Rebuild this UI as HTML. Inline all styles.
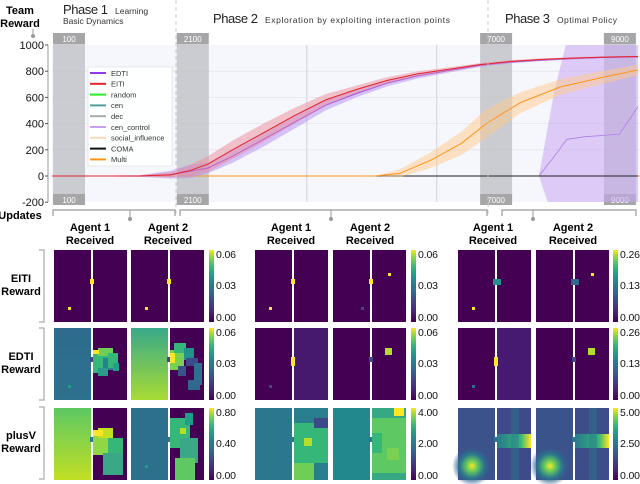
<!DOCTYPE html>
<html><head><meta charset="utf-8"><style>
html,body{margin:0;padding:0;background:#fff;width:640px;height:484px;overflow:hidden}
svg{display:block;font-family:"Liberation Sans",sans-serif}
</style></head><body>
<svg id="s" width="640" height="484" viewBox="0 0 640 484" xmlns="http://www.w3.org/2000/svg">
<defs>
<linearGradient id="vir" x1="0" y1="1" x2="0" y2="0">
<stop offset="0" stop-color="#440154"/><stop offset="0.15" stop-color="#482878"/><stop offset="0.3" stop-color="#3e4989"/><stop offset="0.42" stop-color="#31688e"/><stop offset="0.55" stop-color="#26828e"/><stop offset="0.66" stop-color="#1f9e89"/><stop offset="0.76" stop-color="#35b779"/><stop offset="0.86" stop-color="#6ece58"/><stop offset="0.94" stop-color="#b5de2b"/><stop offset="1" stop-color="#fde725"/></linearGradient>
<linearGradient id="gA2" x1="0" y1="0" x2="0" y2="1"><stop offset="0" stop-color="#38a98a"/><stop offset="1" stop-color="#a8db34"/></linearGradient>
<linearGradient id="gP1" x1="0" y1="0" x2="0" y2="1"><stop offset="0" stop-color="#5cc863"/><stop offset="1" stop-color="#c2df23"/></linearGradient>
<linearGradient id="gB1" x1="0" y1="0" x2="0" y2="1"><stop offset="0" stop-color="#2f6b8e"/><stop offset="1" stop-color="#2c718e"/></linearGradient>
<radialGradient id="glow"><stop offset="0" stop-color="#fde725"/><stop offset="0.25" stop-color="#6ece58"/><stop offset="0.6" stop-color="#2a788e"/><stop offset="1" stop-color="#3b528b" stop-opacity="0"/></radialGradient>
<linearGradient id="hband" x1="0" y1="0" x2="1" y2="0"><stop offset="0" stop-color="#2a788e"/><stop offset="0.7" stop-color="#35b779"/><stop offset="1" stop-color="#fde725"/></linearGradient>
<clipPath id="pc"><rect x="52" y="45" width="588" height="157"/></clipPath>
</defs>
</svg>
<script>
const NS='http://www.w3.org/2000/svg';
const svg=document.getElementById('s');
function mk(tag,attrs,parent){const e=document.createElementNS(NS,tag);for(const k in attrs)e.setAttribute(k,attrs[k]);(parent||svg).appendChild(e);return e;}
function tx(x,y,str,attrs,parent){const e=mk('text',Object.assign({x:x,y:y},attrs||{}),parent);e.textContent=str;return e;}

// ---------- chart data ----------
const yTicks=[1000,800,600,400,200,0,-200];
const phaseMarks=[100,2100,7000,9000];
const eitiU=[0,1500,2000,2300,2600,3000,3500,4000,4500,5000,5500,6000,6500,7000,7500,8000,8500,9000,9550];
const eitiV=[0,0,10,40,90,200,330,460,580,660,730,780,815,850,875,890,900,908,912];
const eitiS=[0,5,20,40,60,70,70,60,45,30,25,20,15,12,10,8,8,6,6];
const edtiU=[0,1500,2000,2300,2600,3000,3500,4000,4500,5000,5500,6000,6500,7000,7500,8000,8500,9000,9550];
const edtiV=[0,0,10,35,60,150,280,410,540,630,710,765,805,845,870,885,897,905,910];
const edtiS=[0,5,30,50,40,50,55,50,40,30,25,20,15,12,10,8,8,6,6];
const multiU=[0,5300,5700,6200,6700,7100,7650,8300,8950,9550];
const multiV=[0,0,20,120,250,400,560,680,750,810];
const multiS=[0,0,30,60,90,110,80,60,50,40];
const ccU=[0,7950,8200,8400,8700,9000,9250,9550];
const ccV=[0,0,150,280,300,310,320,530];
const ccS=[0,0,500,750,800,800,800,750];
const comaU=[5300,9550];
const comaV=[0,0];

const xs=u=>53+(u-100)*0.0619;
const ys=v=>176-v*0.131;

mk('rect',{x:52,y:45,width:588,height:157,fill:'#f6f7fd',});
const grid=mk('g',{});
yTicks.forEach(t=>{if(t>-200&&t<1000)mk('line',{x1:52,x2:640,y1:ys(t),y2:ys(t),stroke:'#e4e5ec','stroke-width':0.8},grid);});
[4200,6300].forEach(u=>mk('line',{x1:xs(u),x2:xs(u),y1:45,y2:202,stroke:'#d0d0d6','stroke-width':1},grid));

phaseMarks.forEach(m=>{
  const g=mk('g',{});
  
  
  const x=xs(m);
  mk('rect',{x:x,y:44,width:32,height:150,fill:'#b9b9bd','fill-opacity':0.7},g);
  mk('rect',{x:x,y:33,width:32,height:11,fill:'#a6a6a8'},g);
  mk('rect',{x:x,y:194,width:32,height:11,fill:'#a6a6a8'},g);
  tx(x+16,42,String(m),{'font-size':8,fill:'#fff','text-anchor':'middle'},g);
  tx(x+16,203,String(m),{'font-size':8,fill:'#fff','text-anchor':'middle'},g);
});

function linePath(U,V){return U.map((u,i)=>(i?'L':'M')+xs(u).toFixed(1)+','+ys(V[i]).toFixed(1)).join('');}
function bandPath(U,V,S){let p=U.map((u,i)=>(i?'L':'M')+xs(u).toFixed(1)+','+ys(V[i]+S[i]).toFixed(1)).join('');for(let i=U.length-1;i>=0;i--)p+='L'+xs(U[i]).toFixed(1)+','+ys(V[i]-S[i]).toFixed(1);return p+'Z';}
const plot=mk('g',{'clip-path':'url(#pc)',});
function series(name,U,V,S,col,bandCol,op,w){
  if(S){const b=mk('path',{d:bandPath(U,V,S),fill:bandCol,'fill-opacity':op},plot);
    
    }
  const l=mk('path',{d:linePath(U,V),fill:'none',stroke:col,'stroke-width':w||1},plot);
  
  
}
mk('line',{x1:52,x2:640,y1:ys(0),y2:ys(0),stroke:'#ffa030','stroke-width':1,},plot);
series('cen-control',ccU,ccV,ccS,'#b07be8','#c9a6f2',0.55,0.8);
series('coma',comaU,comaV,null,'#222');
series('multi',multiU,multiV,multiS,'#ff9418','#ffc98a',0.5,1);
series('edti',edtiU,edtiV,edtiS,'#8d3cf0','#b48cf5',0.5,1);
series('eiti',eitiU,eitiV,eitiS,'#e3242b','#ec8c99',0.5,1);

const ax=mk('g',{});
mk('line',{x1:48,x2:48,y1:45,y2:202,stroke:'#999','stroke-width':1},ax);
yTicks.forEach(t=>{mk('line',{x1:45,x2:48,y1:ys(t),y2:ys(t),stroke:'#555'},ax);
  tx(44,ys(t)+4,String(t),{'font-size':11,fill:'#111','text-anchor':'end'},ax);});
tx(20,14,'Team',{'font-size':11,'font-weight':'bold','text-anchor':'middle',});
tx(20,27,'Reward',{'font-size':11,'font-weight':'bold','text-anchor':'middle'});
mk('line',{x1:33,x2:33,y1:29,y2:36,stroke:'#999'});mk('circle',{cx:33,cy:36,r:2,fill:'#999'});
tx(20,219,'Updates',{'font-size':11,'font-weight':'bold','text-anchor':'middle',});

const br=mk('g',{});
[[53,175,130],[180,487,331],[502,636,533]].forEach(b=>{
  mk('path',{d:`M${b[0]},216 V210 H${b[1]} V216`,fill:'none',stroke:'#999','stroke-width':1.2},br);
  mk('line',{x1:b[2],x2:b[2],y1:210,y2:218,stroke:'#999'},br);
  mk('circle',{cx:b[2],cy:219,r:2,fill:'#999'},br);
});
[176,488].forEach(x=>mk('line',{x1:x,x2:x,y1:0,y2:215,stroke:'#c8c8c8','stroke-dasharray':'4,3',}));

tx(63,14,'Phase 1',{'font-size':13,fill:'#222',textLength:45,});
tx(115,14,'Learning',{'font-size':8.5,fill:'#333'});
tx(63,24,'Basic Dynamics',{'font-size':8.5,fill:'#333'});
tx(213,23,'Phase 2',{'font-size':13,fill:'#222',textLength:45,});
tx(265,23,'Exploration by exploiting interaction points',{'font-size':8.5,fill:'#333',textLength:185});
tx(505,23,'Phase 3',{'font-size':13,fill:'#222',textLength:45,});
tx(557,23,'Optimal Policy',{'font-size':8.5,fill:'#333',textLength:60});

const legNames=['EDTI','EITI','random','cen','dec','cen_control','social_influence','COMA','Multi'];
const legCols=['#8d3cf0','#e3242b','#22ee22','#4f9c9c','#aaaaaa','#c9a0f0','#f8dcb6','#111111','#ff9418'];
const lg=mk('g',{});
mk('rect',{x:88,y:67,width:84,height:99,fill:'#fff','fill-opacity':0.9,stroke:'#ddd','stroke-width':0.6},lg);
legNames.forEach((n,i)=>{const y=73+i*10.8;const g=mk('g',{},lg);
  
  
  mk('line',{x1:90,x2:106,y1:y,y2:y,stroke:legCols[i],'stroke-width':2},g);
  tx(111,y+2.8,n,{'font-size':7.5,fill:'#333'},g);});

// ---------- heatmaps ----------
const colX=[54,131,255,333,458,536];
const rowY=[250,328,408];
const headers=[[90,'Agent 1'],[168,'Agent 2'],[291,'Agent 1'],[370,'Agent 2'],[493,'Agent 1'],[573,'Agent 2']];
headers.forEach(h=>{const g=mk('g',{});
  
  
  tx(h[0],231,h[1],{'font-size':11,'font-weight':'bold','text-anchor':'middle'},g);
  tx(h[0],244,'Received',{'font-size':11,'font-weight':'bold','text-anchor':'middle'},g);});
[['EITI',286],['EDTI',364],['plusV',443]].forEach(r=>{const g=mk('g',{});
  
  
  tx(21,r[1]-4,r[0],{'font-size':11,'font-weight':'bold','text-anchor':'middle'},g);
  tx(21,r[1]+9,'Reward',{'font-size':11,'font-weight':'bold','text-anchor':'middle'},g);
  mk('path',{d:`M39,${r[1]-36} H44 V${r[1]+36} H39`,fill:'none',stroke:'#aaa','stroke-width':1.2},g);});

const D='#440154';
const fills=[
 [[D,D],[D,D],[D,D],[D,D],[D,D],[D,D]],
 [['url(#gB1)',D],['url(#gA2)',D],[D,'#46196e'],[D,D],[D,'#461a70'],[D,D]],
 [['url(#gP1)',D],['#2d708e',D],['#2a788e','#2a7f8e'],['#23888e','#37a884'],['#3b528b','#3e4a89'],['#3a538b','#3d4d8a']]
];
const hm=mk('g',{});
for(let r=0;r<3;r++)for(let c=0;c<6;c++){
  const x=colX[c],y=rowY[r];
  const g=mk('g',{},hm);
  
  
  mk('rect',{x:x,y:y,width:37,height:72,fill:fills[r][c][0]},g);
  mk('rect',{x:x+39,y:y,width:34,height:72,fill:fills[r][c][1]},g);
  const cc=(r===0)?'#fde725':(r===1?'#3e4989':'#2a788e');
  mk('rect',{x:x+36,y:y+29,width:4,height:5,fill:cc},g);
}
function blob(x,y,cells){cells.forEach(p=>mk('rect',{x:x+p[0],y:y+p[1],width:p[2],height:p[3],fill:p[4]},hm));}
function dot(x,y,col,s){mk('rect',{x:x,y:y,width:s||3,height:s||3,fill:col},hm);}
dot(colX[0]+14,rowY[0]+57,'#fde725');dot(colX[1]+14,rowY[0]+57,'#fde725');
dot(colX[2]+14,rowY[0]+57,'#fde725');dot(colX[3]+55,rowY[0]+23,'#fde725');
dot(colX[3]+28,rowY[0]+57,'#3e4989');
dot(colX[4]+14,rowY[0]+57,'#fde725');dot(colX[5]+55,rowY[0]+23,'#fde725');
mk('rect',{x:colX[4]+35,y:rowY[0]+29,width:8,height:6,fill:'#21918c'});
mk('rect',{x:colX[5]+35,y:rowY[0]+29,width:8,height:6,fill:'#31688e'});
blob(colX[0]+39,rowY[1],[[0,25,15,20,'#35b779'],[5,20,15,8,'#6ece58'],[10,30,15,12,'#26828e'],[15,25,10,15,'#35b779'],[0,22,6,4,'#fde725'],[20,35,6,8,'#1f9e89'],[5,40,10,8,'#2c9a8a']]);
dot(colX[0]+14,rowY[1]+57,'#1f9e89');
blob(colX[1]+39,rowY[1],[[0,22,14,20,'#7ad151'],[4,15,12,10,'#35b779'],[14,20,10,12,'#21918c'],[0,25,5,10,'#fde725'],[16,30,12,8,'#3e4989'],[24,35,8,22,'#2c718e'],[18,52,12,10,'#31688e'],[8,38,8,10,'#3b528b']]);
dot(colX[2]+14,rowY[1]+57,'#3e4989');dot(colX[4]+14,rowY[1]+57,'#31688e');
mk('rect',{x:colX[3]+52,y:rowY[1]+20,width:7,height:7,fill:'#b5de2b'});
mk('rect',{x:colX[5]+52,y:rowY[1]+20,width:7,height:7,fill:'#b5de2b'});
mk('rect',{x:colX[2]+36,y:rowY[1]+29,width:4,height:9,fill:'#fde725'});
mk('rect',{x:colX[4]+36,y:rowY[1]+29,width:4,height:9,fill:'#fde725'});
blob(colX[0]+39,rowY[2],[[0,25,20,22,'#8fd744'],[5,20,15,10,'#c2df23'],[15,30,15,20,'#35b779'],[10,45,20,22,'#3aa886'],[0,22,10,6,'#fde725']]);
blob(colX[1]+39,rowY[2],[[0,10,20,30,'#35b779'],[10,30,18,25,'#3aa886'],[5,50,20,22,'#5ec962'],[15,5,8,12,'#1f9e89'],[10,20,6,6,'#b5de2b']]);
dot(colX[1]+14,rowY[2]+57,'#1f9e89');
blob(colX[2]+39,rowY[2],[[0,15,34,40,'#35b779'],[0,55,20,17,'#6ece58'],[20,10,14,10,'#3e4989'],[10,30,8,8,'#b5de2b']]);
blob(colX[3]+39,rowY[2],[[0,10,34,55,'#5ec962'],[22,0,10,8,'#fde725'],[0,25,10,20,'#35b779'],[15,40,12,12,'#7ad151']]);
[4,5].forEach(c=>{mk('circle',{cx:colX[c]+14,cy:rowY[2]+58,r:20,fill:'url(#glow)'},hm);
  mk('rect',{x:colX[c]+39,y:rowY[2]+26,width:34,height:14,fill:'url(#hband)'},hm);
  mk('rect',{x:colX[c]+53,y:rowY[2],width:8,height:72,fill:'#2a788e','fill-opacity':0.45},hm);});

const cbX=[209,411,613];
const cbLabels=[[['0.06','0.03','0.00'],['0.06','0.03','0.00'],['0.80','0.40','0.00']],
 [['0.06','0.03','0.00'],['0.06','0.03','0.00'],['4.00','2.00','0.00']],
 [['0.26','0.13','0.00'],['0.26','0.13','0.00'],['5.00','2.50','0.00']]];
for(let g=0;g<3;g++)for(let r=0;r<3;r++){
  const cb=mk('g',{});
  
  
  mk('rect',{x:cbX[g],y:rowY[r],width:5,height:72,fill:'url(#vir)'},cb);
  [8,39,71].forEach((o,i)=>tx(cbX[g]+7,rowY[r]+o,cbLabels[g][r][i],{'font-size':10.5,fill:'#111',textLength:20},cb));
}
</script>
</body></html>
